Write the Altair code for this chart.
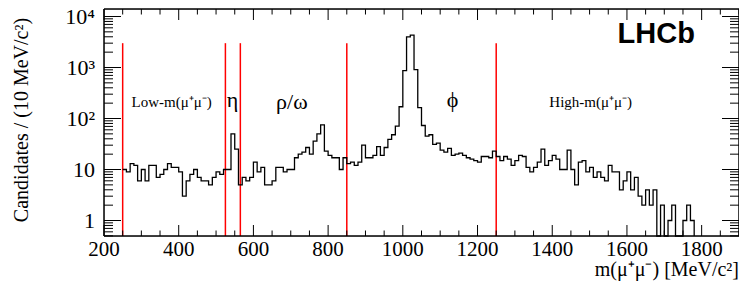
import altair as alt
import pandas as pd

# ---------------- data ----------------
bin_start = 250
bin_width = 10
counts = [
    10, 9, 13, 12, 6, 10, 6, 12, 12, 7,          # 250-340
    8, 10, 13, 11, 11, 9, 3, 6, 8, 10,           # 350-440
    7, 6, 6, 5, 7, 9, 8, 10, 10, 50,             # 450-540
    25, 5, 7, 6, 7, 14, 9, 11, 5, 5,             # 550-640
    6, 11, 11, 9, 10, 10, 17, 20, 22, 27,        # 650-740
    20, 36, 50, 75, 23, 19, 17, 17, 10, 17,      # 750-840
    13, 14, 12, 14, 30, 17, 17, 19, 28, 19,      # 850-940
    27, 39, 48, 71, 170, 870, 4000, 4300, 910, 164,  # 950-1040
    73, 45, 48, 31, 33, 24, 22, 26, 19, 20,      # 1050-1140
    21, 19, 17, 16, 15, 14, 18, 18, 17, 23,      # 1150-1240
    18, 15, 18, 16, 12, 15, 19, 18, 11, 9,       # 1250-1340
    11, 14, 25, 12, 15, 19, 16, 10, 10, 24,      # 1350-1440
    10, 5, 14, 15, 9, 11, 7, 9, 7, 6,            # 1450-1540
    12, 9, 9, 4, 6, 9, 4, 7, 3, 2,               # 1550-1640
    4, 2, 4, 0, 2, 0, 1, 2, 0, 0,                # 1650-1740
    1, 2, 1,                                     # 1750-1770
]
region_edges = [250, 525, 565, 850, 1250]
region_top = 3000
label_text = ["Low-m(μ⁺μ⁻)", "η", "ρ/ω", "ϕ", "High-m(μ⁺μ⁻)"]
label_x = [381, 544, 703, 1133, 1503]
label_y = [215, 230, 215, 230, 215]
label_size = [15, 22, 22, 22, 15]

x_major = [200, 400, 600, 800, 1000, 1200, 1400, 1600, 1800]
x_major_text = ["200", "400", "600", "800", "1000", "1200", "1400", "1600", "1800"]
y_major = [1, 10, 100, 1000, 10000]
y_major_text = ["1", "10", "10²", "10³", "10⁴"]
x_title = "m(μ⁺μ⁻) [MeV/c²]"
y_title = "Candidates / (10 MeV/c²)"

# ---------------- geometry ----------------
W, H = 635, 227
x_dom = [200, 1900]
y_dom = [0.497, 14030]
x_minor = [v for v in range(200, 1901, 50) if v not in x_major]
y_minor = [m * 10 ** e for e in range(-1, 5) for m in range(2, 10)]
y_minor = [v for v in y_minor if y_dom[0] <= v <= y_dom[1]]

edges = [bin_start + bin_width * i for i in range(len(counts) + 1)]
hist = pd.DataFrame({"m": edges, "n": counts + [0]})
hist["y"] = hist["n"].where(hist["n"] > 0, 0.1)

rules = pd.DataFrame({"m": region_edges, "top": [region_top] * len(region_edges),
                      "y": [y_dom[0]] * len(region_edges)})
labels = pd.DataFrame({"m": label_x, "y": label_y, "t": label_text, "s": label_size})
lhcb = pd.DataFrame({"m": [1782], "y": [4560], "t": ["LHCb"]})

SERIF = "Liberation Serif"
xs = alt.Scale(type="linear", domain=x_dom, nice=False, zero=False)
ys = alt.Scale(type="log", domain=y_dom, nice=False, clamp=True)

line = alt.Chart(hist).mark_line(interpolate="step-after", color="black", strokeWidth=1.3).encode(
    x=alt.X("m:Q", scale=xs, axis=None), y=alt.Y("y:Q", scale=ys, axis=None))


def xticks(vals, size):
    d = pd.DataFrame({"m": vals})
    bottom = alt.Chart(d).mark_rule(color="black", strokeWidth=1).encode(
        x=alt.X("m:Q", scale=xs, axis=None), y=alt.value(H), y2=alt.value(H - size))
    top = alt.Chart(d).mark_rule(color="black", strokeWidth=1).encode(
        x=alt.X("m:Q", scale=xs, axis=None), y=alt.value(0), y2=alt.value(size))
    return [bottom, top]


def yticks(vals, size):
    d = pd.DataFrame({"v": vals})
    left = alt.Chart(d).mark_rule(color="black", strokeWidth=1).encode(
        y=alt.Y("v:Q", scale=ys, axis=None), x=alt.value(0), x2=alt.value(size))
    right = alt.Chart(d).mark_rule(color="black", strokeWidth=1).encode(
        y=alt.Y("v:Q", scale=ys, axis=None), x=alt.value(W), x2=alt.value(W - size))
    return [left, right]


tick_layers = xticks(x_major, 11) + xticks(x_minor, 5.5) + yticks(y_major, 17) + yticks(y_minor, 9)

# frame (drawn as rules so it is always on top)
frame_df = pd.DataFrame({"k": [0]})
frame = [
    alt.Chart(frame_df).mark_rule(color="black", strokeWidth=1.5).encode(
        x=alt.value(0), x2=alt.value(W), y=alt.value(0)),
    alt.Chart(frame_df).mark_rule(color="black", strokeWidth=1.5).encode(
        x=alt.value(0), x2=alt.value(W), y=alt.value(H)),
    alt.Chart(frame_df).mark_rule(color="black", strokeWidth=1.5).encode(
        x=alt.value(0), y=alt.value(0), y2=alt.value(H)),
    alt.Chart(frame_df).mark_rule(color="black", strokeWidth=1.5).encode(
        x=alt.value(W), y=alt.value(0), y2=alt.value(H)),
]

# tick labels and axis titles as text
xlab = alt.Chart(pd.DataFrame({"m": x_major, "t": x_major_text})).mark_text(
    font=SERIF, fontSize=21, color="black", align="center", baseline="middle").encode(
    x=alt.X("m:Q", scale=xs, axis=None), y=alt.value(H + 14), text="t:N")
ylab = alt.Chart(pd.DataFrame({"v": y_major, "t": y_major_text})).mark_text(
    font=SERIF, fontSize=22, color="black", align="right", baseline="middle").encode(
    y=alt.Y("v:Q", scale=ys, axis=None), x=alt.value(-9), text="t:N")
xtit = alt.Chart(pd.DataFrame({"t": [x_title]})).mark_text(
    font=SERIF, fontSize=20, color="black", align="right", baseline="middle").encode(
    x=alt.value(W), y=alt.value(H + 34), text="t:N")
ytit = alt.Chart(pd.DataFrame({"t": [y_title]})).mark_text(
    font=SERIF, fontSize=20, color="black", align="center", baseline="middle", angle=270).encode(
    x=alt.value(-82), y=alt.value(111), text="t:N")

red = alt.Chart(rules).mark_rule(color="#ff0000", strokeWidth=1.5).encode(
    x=alt.X("m:Q", scale=xs, axis=None), y=alt.Y("y:Q", scale=ys, axis=None), y2="top:Q")

txt = alt.Chart(labels).mark_text(font=SERIF, color="black", baseline="middle", align="center").encode(
    x=alt.X("m:Q", scale=xs, axis=None), y=alt.Y("y:Q", scale=ys, axis=None), text="t:N",
    size=alt.Size("s:Q", scale=None, legend=None))

logo = alt.Chart(lhcb).mark_text(font="Liberation Sans", fontWeight="bold", fontSize=29,
                                 color="black", align="right", baseline="middle").encode(
    x=alt.X("m:Q", scale=xs, axis=None), y=alt.Y("y:Q", scale=ys, axis=None), text="t:N")

chart = (
    alt.layer(red, line, *tick_layers, *frame, txt, logo, xlab, ylab, xtit, ytit)
    .properties(width=W, height=H, autosize=alt.AutoSizeParams(type="none"),
                padding={"left": 96, "top": 1, "right": 0, "bottom": 51})
    .configure_view(stroke=None)
    .configure(background="white")
)

chart.save("out.html", embed_options={"renderer": "svg", "actions": False})
